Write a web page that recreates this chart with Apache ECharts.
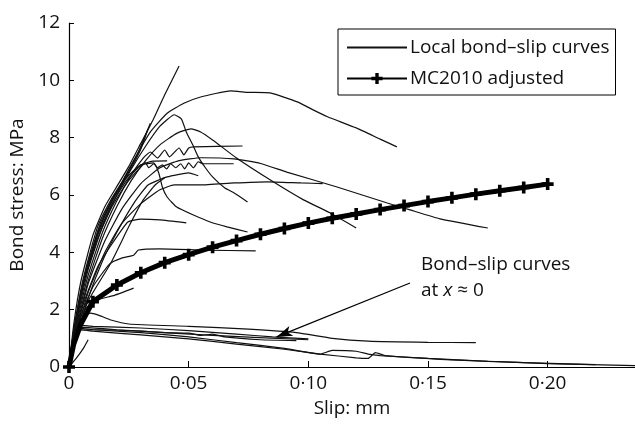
<!DOCTYPE html>
<html>
<head>
<meta charset="utf-8">
<script src="https://cdn.jsdelivr.net/npm/echarts@6/dist/echarts.min.js"></script>
<style>
  html, body { margin: 0; padding: 0; background: #fff; }
  #chart { width: 635px; height: 430px; }
</style>
</head>
<body>
<div id="chart"></div>
<script>
// local bond-slip curves, [slip mm, stress MPa]
var curveA = [[0,0],[0.002,1.5],[0.005,3.0],[0.01,4.6],[0.015,5.6],[0.02,6.3],[0.025,7.0],[0.03,7.8],[0.035,8.6],[0.04,9.5],[0.046,10.5]];
var curveA2 = [[0,0],[0.002,1.3],[0.006,3.1],[0.012,4.9],[0.018,5.9],[0.024,6.7],[0.029,7.5],[0.034,8.5]];
var curveA3 = [[0,0],[0.003,1.6],[0.007,3.3],[0.013,5.0],[0.019,6.0],[0.025,6.8],[0.03,7.6],[0.033,8.3]];
var curveB = [[0,0],[0.003,1.6],[0.008,3.6],[0.014,5.1],[0.02,6.1],[0.026,7.05],[0.034,8.2],[0.041,8.85],[0.048,9.2],[0.055,9.42],[0.0675,9.63],[0.075,9.58],[0.084,9.56],[0.0954,9.25],[0.102,8.97],[0.108,8.73],[0.12,8.34],[0.13,7.95],[0.137,7.68]];
var curveC = [[0,0],[0.003,1.5],[0.008,3.4],[0.014,4.9],[0.02,6.0],[0.026,6.9],[0.032,7.7],[0.038,8.4],[0.044,8.8],[0.047,8.65],[0.049,8.2],[0.052,7.7],[0.054,7.33],[0.057,6.95],[0.06,6.63],[0.065,6.25],[0.069,6.07],[0.0746,5.76]];
var curveD8 = [[0,0],[0.003,1.3],[0.008,3.0],[0.014,4.5],[0.02,5.6],[0.026,6.5],[0.032,7.2],[0.038,7.75],[0.045,8.15],[0.051,8.31],[0.055,8.2],[0.06,7.92],[0.07,7.29],[0.084,6.53],[0.098,5.83],[0.109,5.38],[0.12,4.85]];
var curveE = [[0,0],[0.003,1.4],[0.008,3.2],[0.014,4.7],[0.02,5.8],[0.026,6.7],[0.031,7.29],[0.034,7.5],[0.037,7.29],[0.04,7.57],[0.042,7.33],[0.046,7.64],[0.048,7.4],[0.05,7.64],[0.052,7.68],[0.0725,7.71]];
var curveF = [[0,0],[0.002,1.2],[0.006,2.9],[0.012,4.5],[0.018,5.6],[0.024,6.4],[0.03,6.98],[0.032,7.12],[0.0333,6.95],[0.0354,7.09],[0.037,6.95],[0.039,7.05],[0.0408,6.91],[0.0425,7.09],[0.0446,6.95],[0.0467,7.09],[0.0483,6.91],[0.05,7.12],[0.052,6.95],[0.054,7.16],[0.056,7.09],[0.0688,7.09]];
var curveD = [[0,0],[0.003,1.2],[0.008,2.9],[0.015,4.4],[0.022,5.5],[0.03,6.4],[0.038,6.95],[0.046,7.2],[0.055,7.3],[0.069,7.26],[0.08,7.1],[0.091,6.8],[0.112,6.28],[0.133,5.72],[0.1425,5.48],[0.155,5.17],[0.175,4.85]];
var curveG = [[0,0],[0.002,1.3],[0.006,3.0],[0.012,4.7],[0.018,5.8],[0.024,6.6],[0.03,7.05],[0.0354,7.12],[0.0375,6.77],[0.039,6.28],[0.041,5.93],[0.045,5.58],[0.052,5.3],[0.059,5.06],[0.066,4.89],[0.0746,4.71]];
var curveH = [[0,0],[0.003,1.1],[0.008,2.6],[0.015,4.0],[0.022,5.0],[0.03,5.7],[0.038,6.18],[0.044,6.35],[0.055,6.35],[0.069,6.42],[0.083,6.46],[0.097,6.42],[0.106,6.4]];
var curveI = [[0,0],[0.003,1.0],[0.008,2.4],[0.014,3.7],[0.02,4.7],[0.027,5.7],[0.033,6.35],[0.041,6.63],[0.05,6.77],[0.054,6.67]];
var curveJ = [[0,0],[0.002,1.2],[0.006,2.9],[0.012,4.6],[0.018,5.7],[0.024,6.5],[0.03,7.05],[0.035,7.18],[0.041,7.19]];
var curveK = [[0,0],[0.002,0.8],[0.005,1.8],[0.01,2.8],[0.017,3.6],[0.022,3.8],[0.027,3.9],[0.029,4.08],[0.038,4.12],[0.056,4.08],[0.078,4.05]];
var curveL = [[0,0],[0.002,1.0],[0.005,1.8],[0.01,2.3],[0.019,2.5],[0.027,2.75]];
var curveM = [[0,0],[0.002,0.9],[0.006,2.2],[0.012,3.5],[0.018,4.3],[0.0246,5.06],[0.03,5.16],[0.038,5.13],[0.049,5.03]];
var curveN = [[0,0],[0.003,1.0],[0.008,2.3],[0.0175,3.63],[0.025,4.9],[0.031,5.83],[0.036,6.35],[0.04,6.6]];
// curves at x ~ 0
var lowN1 = [[0,0],[0.003,1.2],[0.006,1.75],[0.009,1.88],[0.012,1.82],[0.0175,1.64],[0.025,1.5],[0.05,1.42],[0.075,1.32],[0.095,1.2],[0.11,1.0],[0.125,0.9],[0.15,0.86],[0.17,0.85]];
var lowN2 = [[0,0],[0.002,1.0],[0.005,1.45],[0.01,1.42],[0.03,1.36],[0.05,1.27],[0.07,1.15],[0.085,1.05],[0.1,0.98]];
var lowN3 = [[0,0],[0.003,1.3],[0.006,1.38],[0.02,1.3],[0.04,1.2],[0.05,1.18],[0.055,1.1],[0.06,1.15],[0.065,1.05],[0.08,0.95],[0.095,0.92]];
var lowN4 = [[0,0],[0.002,1.1],[0.005,1.35],[0.01,1.3],[0.03,1.2],[0.05,1.05],[0.07,0.85],[0.09,0.65],[0.105,0.45],[0.11,0.58],[0.12,0.55],[0.125,0.45],[0.13,0.4],[0.15,0.3],[0.175,0.2],[0.2,0.12],[0.237,0.05]];
var lowN5 = [[0,0],[0.002,1.0],[0.005,1.3],[0.01,1.25],[0.03,1.12],[0.05,0.98],[0.07,0.8],[0.09,0.62],[0.105,0.45],[0.12,0.32],[0.125,0.3],[0.128,0.5],[0.132,0.4],[0.16,0.25],[0.19,0.15],[0.22,0.08]];
var lowN6 = [[0,0],[0.003,1.25],[0.01,1.3],[0.03,1.25],[0.06,1.1],[0.1,0.95]];
var lowN7 = [[0,0],[0.003,0.3],[0.006,0.65],[0.008,0.95]];

// MC2010 adjusted
var mcStartSlip = [0, 0.002, 0.005];
var mcStartStress = [0, 0.8, 1.5];
var mcSlip = [0.01,0.02,0.03,0.04,0.05,0.06,0.07,0.08,0.09,0.10,0.11,0.12,0.13,0.14,0.15,0.16,0.17,0.18,0.19,0.20];
var mcStress = [2.28,2.86,3.29,3.64,3.92,4.18,4.41,4.63,4.83,5.02,5.19,5.34,5.49,5.63,5.77,5.90,6.03,6.15,6.26,6.38];

var localCurves = [curveA, curveA2, curveA3, curveB, curveC, curveD8, curveE, curveF, curveD, curveG,
  curveH, curveI, curveJ, curveK, curveL, curveM, curveN, lowN1, lowN2, lowN3, lowN4, lowN5, lowN6, lowN7];

var localName = 'Local bond–slip curves';
var mcName = 'MC2010 adjusted';
var plusPath = 'path://M3.5,0H6.5V3.5H10V6.5H6.5V10H3.5V6.5H0V3.5H3.5Z';
var font = 'Open Sans';
var fs = 19;

var series = localCurves.map(function (c) {
  return {
    name: localName,
    type: 'line',
    data: c,
    symbol: 'none',
    smooth: 0.15,
    itemStyle: { color: '#111' },
    lineStyle: { color: '#111', width: 1.2 },
    z: 2
  };
});

var mcData = [];
for (var i = 0; i < mcStartSlip.length; i++) {
  mcData.push({ value: [mcStartSlip[i], mcStartStress[i]], symbol: i === 0 ? plusPath : 'none' });
}
for (var j = 0; j < mcSlip.length; j++) {
  mcData.push([mcSlip[j], mcStress[j]]);
}

series.push({
  name: mcName,
  type: 'line',
  data: mcData,
  symbol: plusPath,
  symbolSize: 12,
  itemStyle: { color: '#000' },
  lineStyle: { color: '#000', width: 5 },
  z: 5,
  markLine: {
    silent: true,
    symbol: ['none', 'arrow'],
    symbolSize: [8, 16],
    label: { show: false },
    lineStyle: { color: '#000', width: 1.2, type: 'solid' },
    data: [[{ coord: [0.1425, 2.93] }, { coord: [0.0867, 1.05] }]]
  }
});

var myChart = echarts.init(document.getElementById('chart'));
var option = {
  animation: false,
  backgroundColor: '#fff',
  textStyle: { fontFamily: font },
  grid: { left: 68, right: 0, top: 23, bottom: 63 },
  legend: {
    data: [
      { name: localName, itemStyle: { opacity: 0 } },
      { name: mcName }
    ],
    orient: 'vertical',
    left: 338,
    top: 29,
    padding: [9, 6, 7, 8],
    itemGap: 12,
    itemWidth: 60,
    itemHeight: 14,
    borderColor: '#000',
    borderWidth: 1,
    textStyle: { fontFamily: font, fontSize: fs, color: '#111', padding: [0, 0, 0, -2] }
  },
  xAxis: {
    type: 'value',
    min: 0,
    max: 0.2365,
    interval: 0.05,
    name: 'Slip: mm',
    nameLocation: 'middle',
    nameGap: 32,
    nameTextStyle: { fontFamily: font, fontSize: fs, color: '#111' },
    axisLine: { lineStyle: { color: '#000', width: 1.2 } },
    axisTick: { inside: true, length: 6, lineStyle: { color: '#000' } },
    splitLine: { show: false },
    axisLabel: {
      margin: 7,
      fontFamily: font,
      fontSize: fs,
      color: '#111',
      showMaxLabel: false,
      formatter: function (v) {
        if (Math.abs(v * 20 - Math.round(v * 20)) > 1e-6) return '';
        if (v === 0) return '0';
        var n = Math.round(v * 100);
        return '0·' + (n < 10 ? '0' + n : '' + n);
      }
    }
  },
  yAxis: {
    type: 'value',
    min: 0,
    max: 12,
    interval: 2,
    name: 'Bond stress: MPa',
    nameLocation: 'middle',
    nameGap: 42,
    nameTextStyle: { fontFamily: font, fontSize: fs, color: '#111' },
    axisLine: { show: true, lineStyle: { color: '#000', width: 1.2 } },
    axisTick: { show: true, inside: true, length: 5, lineStyle: { color: '#000' } },
    splitLine: { show: false },
    axisLabel: { margin: 9, fontFamily: font, fontSize: fs, color: '#111' }
  },
  graphic: [{
    type: 'text',
    left: 421,
    top: 252,
    style: {
      text: 'Bond–slip curves\n{a|at }{i|x}{a| ≈ 0}',
      fontFamily: font,
      fontSize: fs,
      lineHeight: 26,
      fill: '#111',
      rich: {
        a: { fontFamily: font, fontSize: fs, lineHeight: 26, color: '#111' },
        i: { fontFamily: font, fontSize: fs, lineHeight: 26, fontStyle: 'italic', color: '#111' }
      }
    }
  }],
  series: series
};
myChart.setOption(option);
</script>
</body>
</html>
